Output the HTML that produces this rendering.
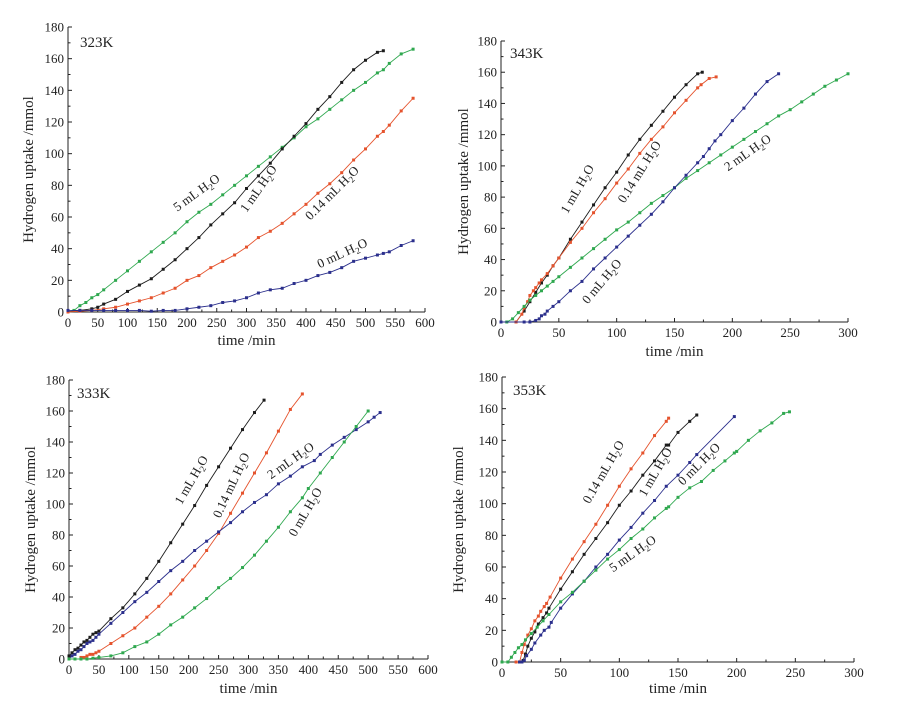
<!DOCTYPE html>
<html><head><meta charset="utf-8">
<style>
html,body{margin:0;padding:0;background:#fff;}
svg{display:block;font-family:"Liberation Serif",serif;}
</style></head>
<body>
<svg id="fig" width="900" height="703" viewBox="0 0 900 703" xmlns="http://www.w3.org/2000/svg"></svg>
<script>
// ---- Panel 323K data ----
const p323_green_t=[0,10,20,30,40,50,60,80,100,120,140,160,180,200,220,240,260,280,300,320,340,360,380,400,420,440,460,480,500,520,530,540,560,580];
const p323_green_v=[0,1,4,6,9,11,14,20,26,32,38,44,50,57,63,68,74,80,86,92,98,104,110,117,122,128,134,140,145,151,153,157,163,166];
const p323_black_t=[0,20,40,50,60,80,100,120,140,160,180,200,220,240,260,280,300,320,340,360,380,400,420,440,460,480,500,520,530];
const p323_black_v=[0,1,2,3,5,8,13,17,21,27,33,40,47,55,62,69,78,86,94,103,111,119,128,136,145,153,159,164,165];
const p323_red_t=[0,20,40,60,80,100,120,140,160,180,200,220,240,260,280,300,320,340,360,380,400,420,440,460,480,500,520,530,540,560,580];
const p323_red_v=[0,0.5,1,2,3,5,7,9,12,15,20,23,28,32,36,41,47,51,56,62,68,75,81,88,96,103,111,114,118,127,135];
const p323_blue_t=[0,20,40,60,80,100,120,140,160,180,200,220,240,260,280,300,320,340,360,380,400,420,440,460,480,500,520,530,540,560,580];
const p323_blue_v=[1,1,1,1,1,1,1,0.5,1,1,2,3,4,6,7,9,12,14,15,18,20,23,25,28,32,34,36,37,38,42,45];
// ---- Panel 343K data ----
const p343_black_t=[13,20,25,30,35,40,45,50,60,70,80,90,100,110,120,130,140,150,160,170,174];
const p343_black_v=[0,7,13,19,25,30,36,41,53,64,75,86,96,107,117,126,135,144,152,159,160];
const p343_red_t=[13,18,20,23,25,28,30,33,35,40,45,50,60,70,80,90,100,110,120,130,140,150,160,170,173,180,186];
const p343_red_v=[0,5,9,13,17,20,22,25,27,31,36,41,51,60,70,79,89,98,108,117,125,134,142,150,152,156,157];
const p343_green_t=[0,5,10,15,20,25,30,35,40,45,50,60,70,80,90,100,110,120,130,140,150,160,170,180,190,200,210,220,230,240,250,260,270,280,290,300];
const p343_green_v=[0,0,2,6,10,14,17,20,23,26,29,35,41,47,53,59,64,70,76,81,86,92,97,102,107,112,117,122,127,132,136,141,146,151,155,159];
const p343_blue_t=[0,20,25,30,33,35,38,40,45,50,60,70,80,90,100,110,120,130,140,150,160,170,175,180,185,190,200,210,220,230,240];
const p343_blue_v=[0,0,0,1,2,4,5,7,10,13,20,26,34,41,48,55,62,69,77,86,94,102,106,111,116,120,129,137,146,154,159];
// ---- Panel 333K data ----
const p333_black_t=[0,5,10,15,20,25,30,35,40,45,50,70,90,110,130,150,170,190,210,230,250,270,290,310,326];
const p333_black_v=[2,4,6,7,9,11,12,14,16,17,18,26,33,42,52,63,75,87,99,112,124,136,148,159,167];
const p333_red_t=[20,25,30,35,40,45,50,70,90,110,130,150,170,190,210,230,250,270,290,310,330,350,370,390];
const p333_red_v=[1,1,2,3,3,4,5,10,15,20,27,34,42,51,60,70,81,94,107,120,133,147,161,171];
const p333_blue_t=[0,5,10,15,20,25,30,35,40,45,50,70,90,110,130,150,170,190,210,230,250,270,290,310,330,350,370,390,410,420,440,460,480,500,510,520];
const p333_blue_v=[0,2,3,5,6,8,10,11,12,14,16,23,30,37,43,50,57,63,70,76,82,88,95,101,106,113,118,124,128,132,138,143,148,153,156,159];
const p333_green_t=[0,10,20,30,40,50,70,90,110,130,150,170,190,210,230,250,270,290,310,330,350,370,390,400,420,440,460,480,500];
const p333_green_v=[0,0,0,0,0.5,1,2,4,8,11,16,22,27,33,39,46,52,59,67,76,85,95,104,110,120,130,140,150,160];
// ---- Panel 353K data ----
const p353_red_t=[12,15,17,19,22,25,28,31,33,36,38,41,50,60,70,80,90,100,110,120,130,140,142];
const p353_red_v=[0,0,6,11,17,21,26,29,32,35,37,41,53,65,76,87,99,111,122,132,143,152,154];
const p353_black_t=[15,18,20,22,25,28,31,35,38,40,50,60,70,80,90,100,110,120,130,140,142,150,160,166];
const p353_black_v=[0,1,5,10,15,19,24,28,31,34,46,57,68,78,88,99,108,118,127,137,137,145,152,156];
const p353_blue_t=[15,17,19,21,25,28,33,36,40,42,50,60,70,80,90,100,110,120,130,140,150,160,166,198];
const p353_blue_v=[0,0,1,4,8,12,17,20,22,25,34,43,51,60,68,77,85,94,102,111,118,126,131,155];
const p353_green_t=[0,5,8,11,14,17,20,25,30,35,40,50,60,70,80,90,100,110,120,130,140,142,150,160,170,180,190,198,200,210,220,230,240,245];
const p353_green_v=[0,0,3,6,9,11,14,18,22,26,30,38,44,51,58,65,71,78,84,91,97,98,104,110,114,121,127,132,133,140,146,151,157,158];

const yTicks=[0,20,40,60,80,100,120,140,160,180];
const xTicks600=[0,50,100,150,200,250,300,350,400,450,500,550,600];
const xTicks300=[0,50,100,150,200,250,300];

const C={black:'#1c1c1c',red:'#e5532d',green:'#2fa84f',blue:'#2b2f8c'};
const NS='http://www.w3.org/2000/svg';
const fig=document.getElementById('fig');
function mk(tag,attrs,parent){const e=document.createElementNS(NS,tag);for(const k in attrs)e.setAttribute(k,attrs[k]);(parent||fig).appendChild(e);return e;}

function panel(cfg){
  const g=mk('g',{});
  
  
  const L=cfg.l,R=cfg.r,T=cfg.t,B=cfg.b,xmax=cfg.xmax;
  const sx=v=>L+(R-L)*v/xmax, sy=v=>B-(B-T)*v/180;
  const ax=mk('path',{d:`M${L},${T}V${B}H${R}`,stroke:'#222','stroke-width':1,fill:'none'},g);
  
  
  yTicks.forEach((v,i)=>{
    mk('line',{x1:L,x2:L+4,y1:sy(v),y2:sy(v),stroke:'#222'},g);
    if(i<yTicks.length-1)mk('line',{x1:L,x2:L+2.5,y1:sy(v+10),y2:sy(v+10),stroke:'#222'},g);
    const t=mk('text',{x:L-4,y:sy(v)+4.5,'text-anchor':'end','font-size':13,fill:'#222'},g);
    
    
    t.textContent=v;
  });
  const xt=cfg.xticks, step=xt[1]-xt[0];
  xt.forEach((v,i)=>{
    mk('line',{x1:sx(v),x2:sx(v),y1:B,y2:B-4,stroke:'#222'},g);
    if(i<xt.length-1)mk('line',{x1:sx(v+step/2),x2:sx(v+step/2),y1:B,y2:B-2.5,stroke:'#222'},g);
    const t=mk('text',{x:sx(v),y:B+15,'text-anchor':'middle','font-size':13,fill:'#222'},g);
    
    
    t.textContent=v;
  });
  const xl=mk('text',{x:(L+R)/2,y:cfg.xty,'text-anchor':'middle','font-size':15,fill:'#222'},g);
  
  
  xl.textContent='time /min';
  const yl=mk('text',{x:0,y:0,'text-anchor':'middle','font-size':15,fill:'#222',transform:`translate(${cfg.ytx},${(T+B)/2}) rotate(-90)`},g);
  
  
  yl.textContent='Hydrogen uptake /mmol';
  const tl=mk('text',{x:cfg.tempx,y:cfg.tempy,'font-size':15,fill:'#222'},g);
  
  
  tl.textContent=cfg.temp;
  cfg.series.forEach(s=>{
    const pts=s.t.map((tv,i)=>[sx(tv),sy(s.v[i])]);
    const p=mk('polyline',{points:pts.map(q=>q.join(',')).join(' '),fill:'none',stroke:C[s.c],'stroke-width':0.9},g);
    
    
    pts.forEach(q=>{
      const m=mk('rect',{x:q[0]-1.5,y:q[1]-1.5,width:3,height:3,fill:C[s.c]},g);
      
      
    });
  });
  cfg.labels.forEach(lb=>{
    const t=mk('text',{'text-anchor':'middle','font-size':13,fill:'#222',transform:`translate(${lb[1]},${lb[2]}) rotate(${lb[3]})`},g);
    
    
    t.innerHTML=lb[0]+' mL H<tspan font-size="9" dy="3">2</tspan><tspan dy="-3">O</tspan>';
  });
}

panel({name:'panel-323k',temp:'323K',l:68,r:425,t:27,b:312,xmax:600,xticks:xTicks600,xty:345,ytx:33,tempx:80,tempy:47,
  series:[{key:'5ml',c:'green',t:p323_green_t,v:p323_green_v},{key:'1ml',c:'black',t:p323_black_t,v:p323_black_v},
          {key:'0.14ml',c:'red',t:p323_red_t,v:p323_red_v},{key:'0ml',c:'blue',t:p323_blue_t,v:p323_blue_v}],
  labels:[['5',199,196,-36],['1',262,191,-55],['0.14',335,196,-45],['0',344,257,-25]]});
panel({name:'panel-343k',temp:'343K',l:501,r:848,t:41,b:322,xmax:300,xticks:xTicks300,xty:356,ytx:468,tempx:510,tempy:58,
  series:[{key:'1ml',c:'black',t:p343_black_t,v:p343_black_v},{key:'0.14ml',c:'red',t:p343_red_t,v:p343_red_v},
          {key:'2ml',c:'green',t:p343_green_t,v:p343_green_v},{key:'0ml',c:'blue',t:p343_blue_t,v:p343_blue_v}],
  labels:[['1',581,191,-60],['0.14',643,174,-58],['2',750,156,-35],['0',605,284,-50]]});
panel({name:'panel-333k',temp:'333K',l:69,r:428,t:380,b:659,xmax:600,xticks:xTicks600,xty:693,ytx:35,tempx:77,tempy:398,
  series:[{key:'1ml',c:'black',t:p333_black_t,v:p333_black_v},{key:'0.14ml',c:'red',t:p333_red_t,v:p333_red_v},
          {key:'2ml',c:'blue',t:p333_blue_t,v:p333_blue_v},{key:'0ml',c:'green',t:p333_green_t,v:p333_green_v}],
  labels:[['1',195,482,-60],['0.14',235,487,-65],['2',293,464,-35],['0',309,514,-60]]});
panel({name:'panel-353k',temp:'353K',l:502,r:854,t:377,b:662,xmax:300,xticks:xTicks300,xty:693,ytx:463,tempx:513,tempy:395,
  series:[{key:'0.14ml',c:'red',t:p353_red_t,v:p353_red_v},{key:'1ml',c:'black',t:p353_black_t,v:p353_black_v},
          {key:'0ml',c:'blue',t:p353_blue_t,v:p353_blue_v},{key:'5ml',c:'green',t:p353_green_t,v:p353_green_v}],
  labels:[['0.14',607,474,-60],['1',659,474,-60],['0',702,467,-45],['5',635,557,-35]]});
</script>
</body></html>
